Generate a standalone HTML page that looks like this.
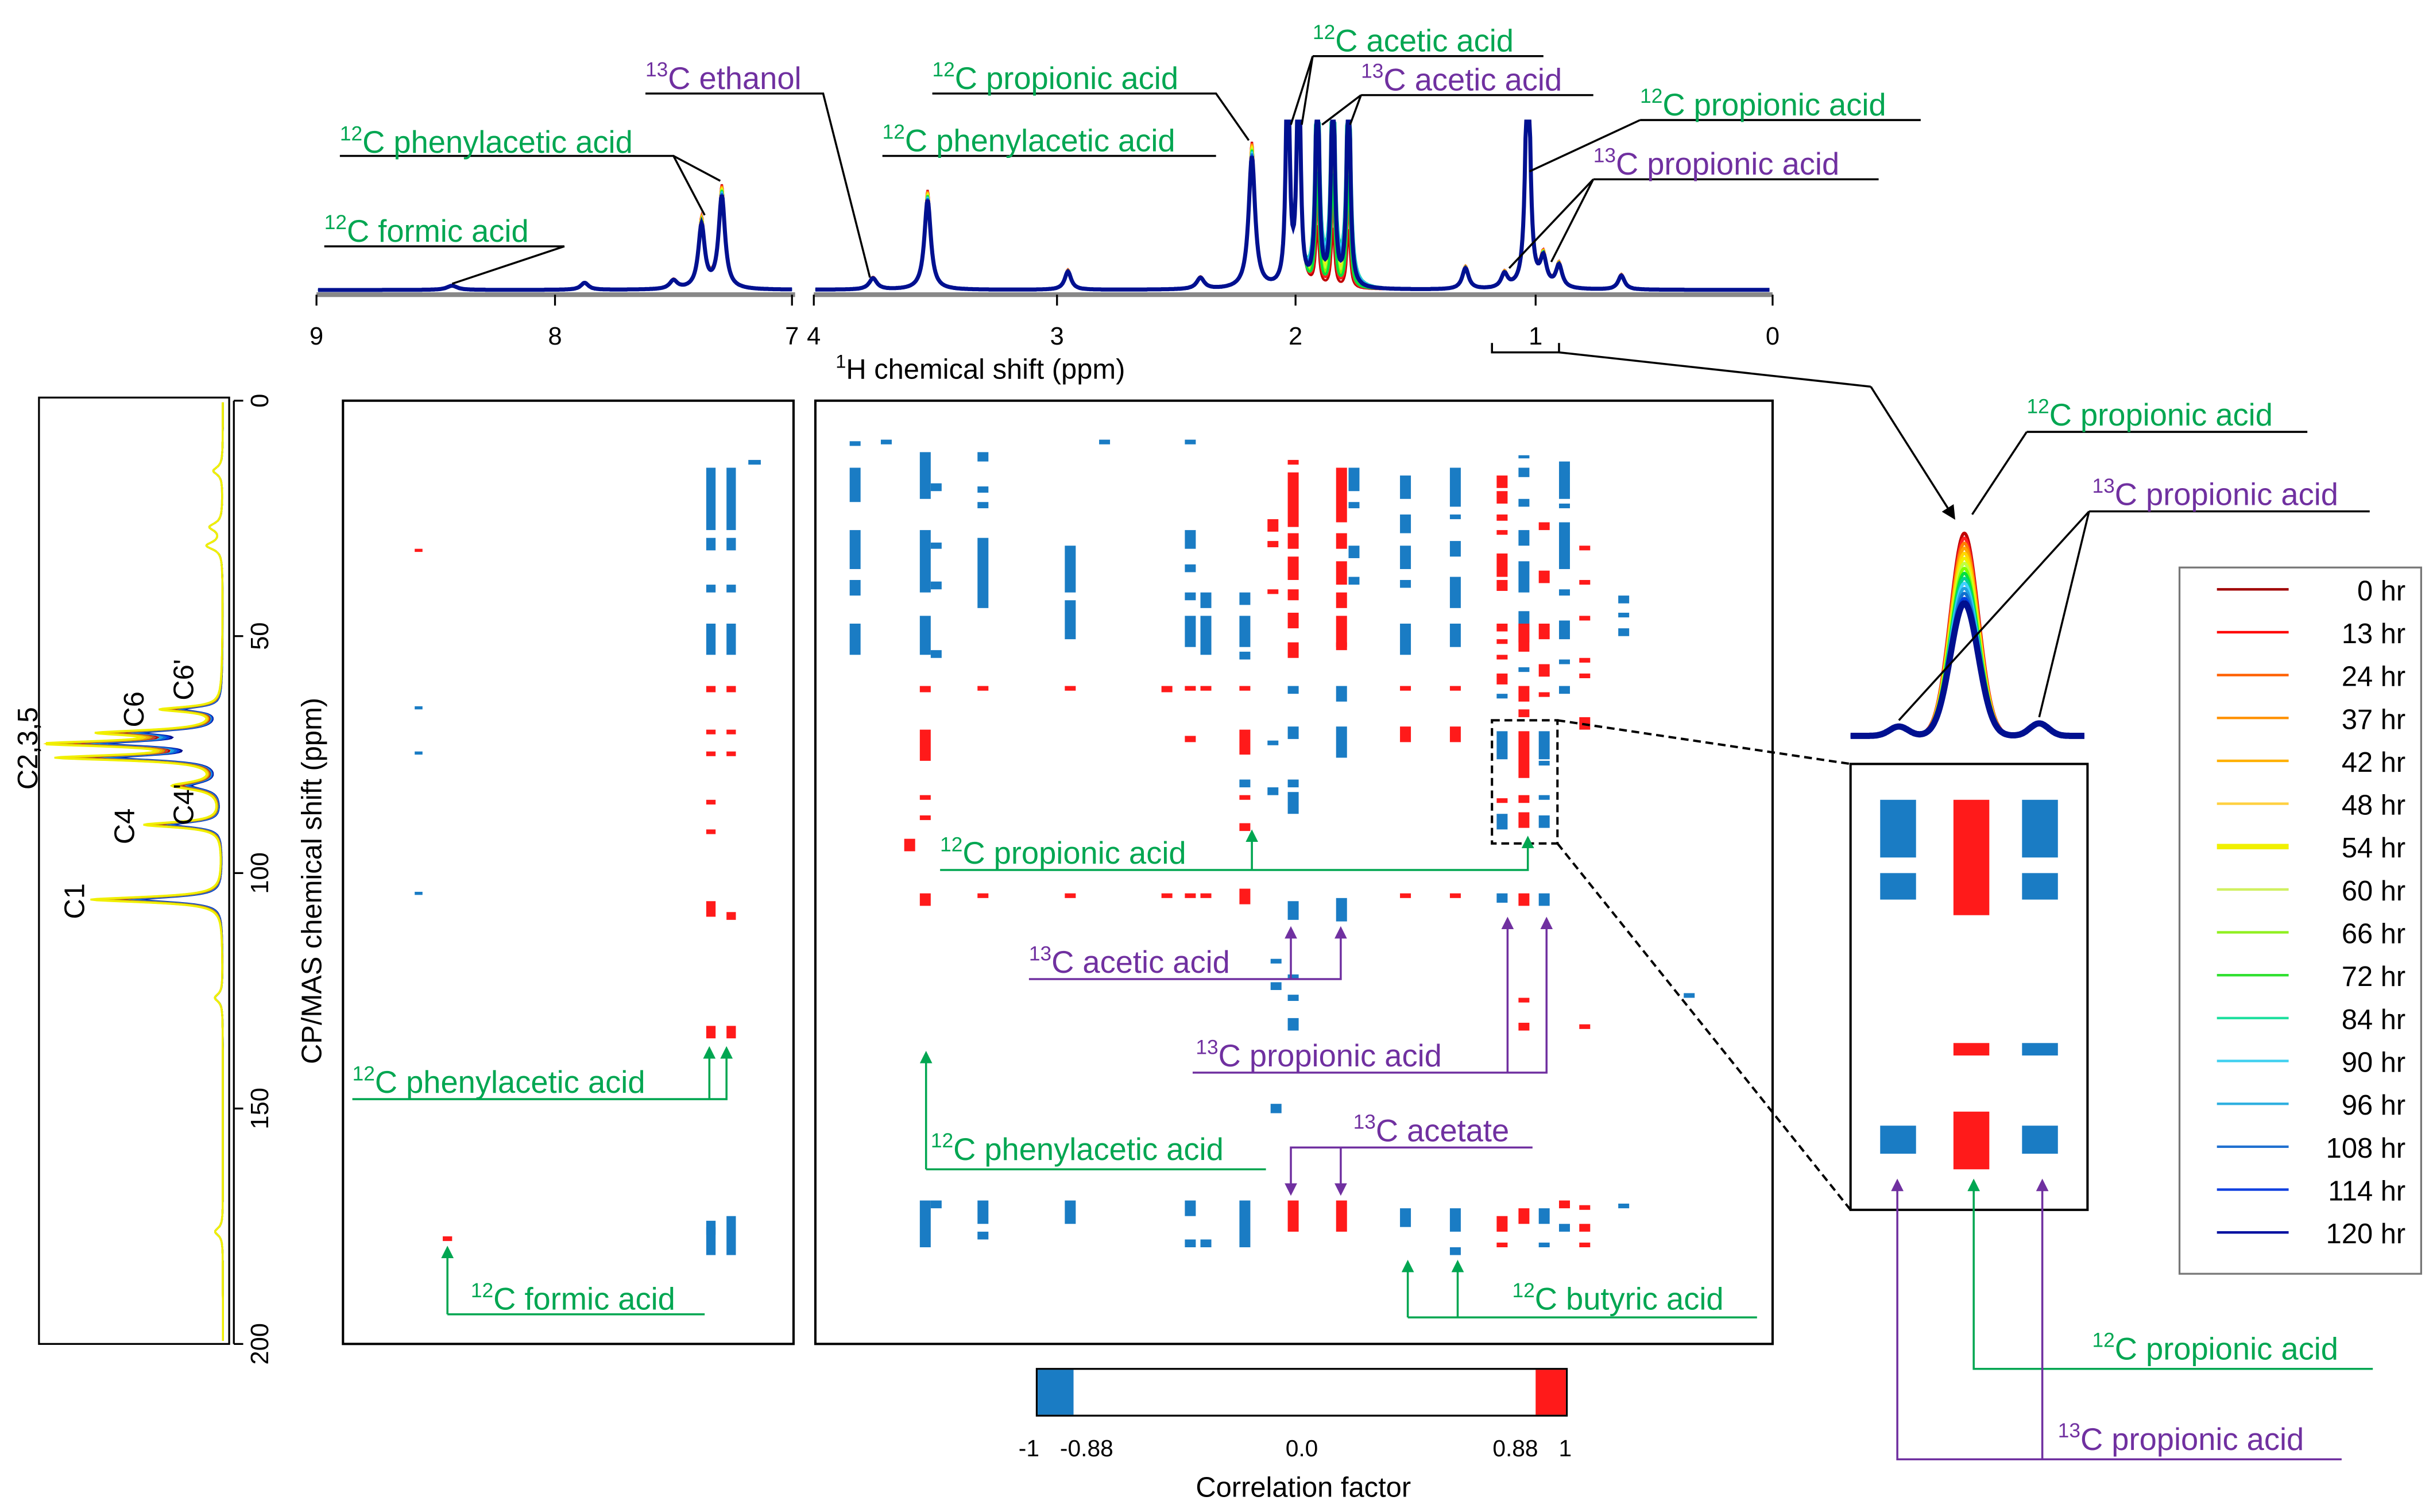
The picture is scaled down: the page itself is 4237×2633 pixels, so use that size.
<!DOCTYPE html>
<html><head><meta charset="utf-8"><style>
html,body{margin:0;padding:0;background:#fff}
svg{display:block}
text{font-family:"Liberation Sans",Arial,sans-serif}
.g{fill:#00a651}.p{fill:#7030a0}
</style></head><body>
<svg id="s" width="4237" height="2633" viewBox="0 0 1560.6 969.8" preserveAspectRatio="none" xmlns="http://www.w3.org/2000/svg">
<defs>
<marker id="ag" markerWidth="8" markerHeight="8" refX="4" refY="4" orient="auto" markerUnits="userSpaceOnUse"><path d="M0,0L8,4L0,8z" fill="#00a651"/></marker>
<marker id="ap" markerWidth="8" markerHeight="8" refX="4" refY="4" orient="auto" markerUnits="userSpaceOnUse"><path d="M0,0L8,4L0,8z" fill="#7030a0"/></marker>
<marker id="ak" markerWidth="9" markerHeight="9" refX="5" refY="4.5" orient="auto" markerUnits="userSpaceOnUse"><path d="M0,0L9,4.5L0,9z" fill="#000"/></marker>
</defs>
<g id="topg"></g>
<g stroke="#888" stroke-width="3"><line x1="203" y1="189" x2="510" y2="189"/><line x1="522" y1="189" x2="1137" y2="189"/></g>
<g stroke="#000" stroke-width="1.2">
<line x1="203" y1="189" x2="203" y2="196"/><line x1="356" y1="189" x2="356" y2="196"/><line x1="508" y1="189" x2="508" y2="196"/>
<line x1="522" y1="189" x2="522" y2="196"/><line x1="678" y1="189" x2="678" y2="196"/><line x1="831" y1="189" x2="831" y2="196"/><line x1="985" y1="189" x2="985" y2="196"/><line x1="1137" y1="189" x2="1137" y2="196"/>
</g>
<g font-size="16" text-anchor="middle">
<text x="203" y="221">9</text><text x="356" y="221">8</text><text x="508" y="221">7</text><text x="522" y="221">4</text><text x="678" y="221">3</text><text x="831" y="221">2</text><text x="985" y="221">1</text><text x="1137" y="221">0</text>
</g>
<text x="536" y="243" font-size="18"><tspan font-size="12" dy="-7">1</tspan><tspan dy="7">H chemical shift  (ppm)</tspan></text>

<rect x="25" y="255" width="122" height="607" fill="none" stroke="#000" stroke-width="1.2"/>
<g id="leftg"></g>
<line x1="150" y1="257" x2="150" y2="862" stroke="#000" stroke-width="1.2"/>
<g stroke="#000" stroke-width="1.2"><line x1="150" y1="257" x2="156" y2="257"/><line x1="150" y1="408" x2="156" y2="408"/><line x1="150" y1="560" x2="156" y2="560"/><line x1="150" y1="711" x2="156" y2="711"/><line x1="150" y1="862" x2="156" y2="862"/></g>
<g font-size="16" text-anchor="middle">
<text transform="translate(178,257) rotate(-90)" dy="-6">0</text>
<text transform="translate(178,408) rotate(-90)" dy="-6">50</text>
<text transform="translate(178,560) rotate(-90)" dy="-6">100</text>
<text transform="translate(178,711) rotate(-90)" dy="-6">150</text>
<text transform="translate(178,862) rotate(-90)" dy="-6">200</text>
<text transform="translate(206,565) rotate(-90)" font-size="18">CP/MAS chemical shift  (ppm)</text>
</g>
<g font-size="18" text-anchor="middle">
<text transform="translate(54,578) rotate(-90)">C1</text>
<text transform="translate(86,530) rotate(-90)">C4</text>
<text transform="translate(24,480) rotate(-90)">C2,3,5</text>
<text transform="translate(92,455) rotate(-90)">C6</text>
<text transform="translate(124,516) rotate(-90)">C4'</text>
<text transform="translate(124,436) rotate(-90)">C6'</text>
</g>

<rect x="220" y="257" width="289" height="605" fill="none" stroke="#000" stroke-width="1.5"/>
<rect x="523" y="257" width="614" height="605" fill="none" stroke="#000" stroke-width="1.5"/>
<g id="dash"></g>

<rect x="957" y="462" width="42" height="79" fill="none" stroke="#000" stroke-width="1.5" stroke-dasharray="5,3"/>
<line x1="999" y1="462" x2="1187" y2="490" stroke="#000" stroke-width="1.5" stroke-dasharray="5,3"/>
<line x1="999" y1="541" x2="1187" y2="776" stroke="#000" stroke-width="1.5" stroke-dasharray="5,3"/>

<rect x="665" y="878" width="340" height="30" fill="#fff" stroke="#000" stroke-width="1.2"/>
<rect x="665.6" y="878.6" width="23" height="28.8" fill="#1a7cc4"/>
<rect x="985" y="878.6" width="19.4" height="28.8" fill="#ff1a1a"/>
<g font-size="15" text-anchor="middle"><text x="660" y="934">-1</text><text x="697" y="934">-0.88</text><text x="835" y="934">0.0</text><text x="972" y="934">0.88</text><text x="1004" y="934">1</text></g>
<text x="836" y="960" font-size="18" text-anchor="middle">Correlation factor</text>

<g id="inset"></g>
<rect x="1187" y="490" width="152" height="286" fill="none" stroke="#000" stroke-width="1.5"/>
<g fill="#1a7cc4"><rect x="1206" y="513" width="23" height="37"/><rect x="1206" y="560" width="23" height="17"/><rect x="1297" y="513" width="23" height="37"/><rect x="1297" y="560" width="23" height="17"/><rect x="1297" y="669" width="23" height="8"/><rect x="1206" y="722" width="23" height="18"/><rect x="1297" y="722" width="23" height="18"/></g>
<g fill="#ff1a1a"><rect x="1253" y="513" width="23" height="74"/><rect x="1253" y="669" width="23" height="8"/><rect x="1253" y="713" width="23" height="37"/></g>

<rect x="1398" y="364" width="155" height="453" fill="#fff" stroke="#777" stroke-width="1.2"/>
<g id="leg" font-size="18" text-anchor="end"></g>

<g font-size="20" fill="none" stroke-width="1.3">
<g stroke="#000">
<polyline points="208,158 362,158 290,182"/>
<polyline points="218,100 432,100 452,138"/><line x1="432" y1="100" x2="462" y2="116"/>
<polyline points="414,60 528,60 558,178"/>
<polyline points="598,60 780,60 801,90"/>
<polyline points="566,100 780,100"/>
<polyline points="842,36 990,36"/><line x1="842" y1="36" x2="828" y2="80"/><line x1="842" y1="36" x2="835" y2="80"/>
<polyline points="873,61 1022,61"/><line x1="873" y1="61" x2="848" y2="80"/><line x1="873" y1="61" x2="866" y2="80"/>
<polyline points="1052,77 1232,77"/><line x1="1052" y1="77" x2="981" y2="110"/>
<polyline points="1022,115 1205,115"/><line x1="1022" y1="115" x2="968" y2="172"/><line x1="1022" y1="115" x2="995" y2="168"/>
<polyline points="957,220 957,226 1000,226 1000,220"/>
<line x1="1000" y1="226" x2="1200" y2="248"/><line x1="1200" y1="248" x2="1252" y2="330" marker-end="url(#ak)"/>
<polyline points="1300,277 1480,277"/><line x1="1300" y1="277" x2="1265" y2="330"/>
<polyline points="1340,328 1520,328"/><line x1="1340" y1="328" x2="1218" y2="462"/><line x1="1340" y1="328" x2="1308" y2="460"/>
</g>
<g stroke="#00a651">
<polyline points="603,558 980,558 980,540" marker-end="url(#ag)"/><line x1="803" y1="558" x2="803" y2="536" marker-end="url(#ag)"/>
<polyline points="226,705 466,705 466,675" marker-end="url(#ag)"/><line x1="455" y1="705" x2="455" y2="675" marker-end="url(#ag)"/>
<polyline points="594,750 812,750"/><line x1="594" y1="750" x2="594" y2="678" marker-end="url(#ag)"/>
<polyline points="287,843 452,843"/><line x1="287" y1="843" x2="287" y2="803" marker-end="url(#ag)"/>
<polyline points="903,845 1127,845"/><line x1="903" y1="845" x2="903" y2="812" marker-end="url(#ag)"/><line x1="935" y1="845" x2="935" y2="812" marker-end="url(#ag)"/>
<polyline points="1522,878 1266,878 1266,760" marker-end="url(#ag)"/>
</g>
<g stroke="#7030a0">
<polyline points="660,628 860,628 860,598" marker-end="url(#ap)"/><line x1="828" y1="628" x2="828" y2="598" marker-end="url(#ap)"/>
<polyline points="765,688 992,688 992,592" marker-end="url(#ap)"/><line x1="967" y1="688" x2="967" y2="592" marker-end="url(#ap)"/>
<polyline points="983,736 828,736 828,763" marker-end="url(#ap)"/><line x1="860" y1="736" x2="860" y2="763" marker-end="url(#ap)"/>
<polyline points="1502,936 1217,936 1217,760" marker-end="url(#ap)"/><line x1="1310" y1="936" x2="1310" y2="760" marker-end="url(#ap)"/>
</g>
</g>
<g font-size="20">
<text x="208" y="155" class="g"><tspan font-size="13" dy="-8">12</tspan><tspan dy="8">C formic acid</tspan></text>
<text x="218" y="98" class="g"><tspan font-size="13" dy="-8">12</tspan><tspan dy="8">C phenylacetic acid</tspan></text>
<text x="414" y="57" class="p"><tspan font-size="13" dy="-8">13</tspan><tspan dy="8">C ethanol</tspan></text>
<text x="598" y="57" class="g"><tspan font-size="13" dy="-8">12</tspan><tspan dy="8">C propionic acid</tspan></text>
<text x="566" y="97" class="g"><tspan font-size="13" dy="-8">12</tspan><tspan dy="8">C phenylacetic acid</tspan></text>
<text x="842" y="33" class="g"><tspan font-size="13" dy="-8">12</tspan><tspan dy="8">C acetic acid</tspan></text>
<text x="873" y="58" class="p"><tspan font-size="13" dy="-8">13</tspan><tspan dy="8">C acetic acid</tspan></text>
<text x="1052" y="74" class="g"><tspan font-size="13" dy="-8">12</tspan><tspan dy="8">C propionic acid</tspan></text>
<text x="1022" y="112" class="p"><tspan font-size="13" dy="-8">13</tspan><tspan dy="8">C propionic acid</tspan></text>
<text x="1300" y="273" class="g"><tspan font-size="13" dy="-8">12</tspan><tspan dy="8">C propionic acid</tspan></text>
<text x="1342" y="324" class="p"><tspan font-size="13" dy="-8">13</tspan><tspan dy="8">C propionic acid</tspan></text>
<text x="603" y="554" class="g"><tspan font-size="13" dy="-8">12</tspan><tspan dy="8">C propionic acid</tspan></text>
<text x="660" y="624" class="p"><tspan font-size="13" dy="-8">13</tspan><tspan dy="8">C acetic acid</tspan></text>
<text x="767" y="684" class="p"><tspan font-size="13" dy="-8">13</tspan><tspan dy="8">C propionic acid</tspan></text>
<text x="226" y="701" class="g"><tspan font-size="13" dy="-8">12</tspan><tspan dy="8">C phenylacetic acid</tspan></text>
<text x="868" y="732" class="p"><tspan font-size="13" dy="-8">13</tspan><tspan dy="8">C acetate</tspan></text>
<text x="597" y="744" class="g"><tspan font-size="13" dy="-8">12</tspan><tspan dy="8">C phenylacetic acid</tspan></text>
<text x="302" y="840" class="g"><tspan font-size="13" dy="-8">12</tspan><tspan dy="8">C formic acid</tspan></text>
<text x="970" y="840" class="g"><tspan font-size="13" dy="-8">12</tspan><tspan dy="8">C butyric acid</tspan></text>
<text x="1342" y="872" class="g"><tspan font-size="13" dy="-8">12</tspan><tspan dy="8">C propionic acid</tspan></text>
<text x="1320" y="930" class="p"><tspan font-size="13" dy="-8">13</tspan><tspan dy="8">C propionic acid</tspan></text>
</g>
</svg>
<script>
(function(){
var NS="http://www.w3.org/2000/svg";
function el(p,t,a){var e=document.createElementNS(NS,t);for(var k in a)e.setAttribute(k,a[k]);p.appendChild(e);return e;}
var cols=["#c00000","#ff2020","#ff7f00","#ffa500","#ffd700","#f0f000","#c0ff40","#80ff00","#00e040","#00d090","#40d0ff","#20a0e0","#1070d0","#0040e0","#001090"];
var tg=document.getElementById("topg");
var peaks=[[450,45,2.5],[463,66,2.5],[595,64,2.5],[803,94,2.5],[826,200,1.2],[833,200,1.2],[845,200,1.2],[855,200,1.2],[865,200,1.2],[980,200,1.6],[990,20,2.5],[1000,16,2.5],[1040,10,2.5],[685,13,2.5],[940,15,2.5],[965,10,2.5],[375,5,3],[432,6,3],[560,8,3],[770,8,3],[290,3,4]];
function topPath(x0,x1,f){var d="";for(var x=x0;x<=x1;x+=0.5){var y=186;for(var i=0;i<peaks.length;i++){var p=peaks[i];var h=p[1]*f(p[0],i);var dx=(x-p[0])/p[2];y-=h/(1+dx*dx);}if(y<78)y=78;d+=(d?"L":"M")+x+","+y.toFixed(1);}return d;}
cols.forEach(function(c,k){var t=k/(cols.length-1);
 var f=function(px,i){if(i>=6&&i<=8){return Math.max(0.05,0.05+(1-Math.abs(t-0.35)*2.2)*0.6+(t>0.6?1:0));} return 0.9+0.1*(1-t);};
 [[204,508],[523,1135]].forEach(function(r){el(tg,"path",{d:topPath(r[0],r[1],f),fill:"none",stroke:c,"stroke-width":k==cols.length-1?2.6:1.5});});
});
var lg=document.getElementById("leftg");
var lp=[[577,85,2.2],[529,50,2.2],[477,108,2.2],[486,100,2.2],[470,70,2.2],[455,38,2],[504,30,3],[350,10,3],[338,8,3],[302,6,3],[640,5,3],[790,5,3]];
var items=cols.map(function(c,k){var t=k/(cols.length-1);return {c:c,fac:1-Math.abs(t-0.35)*0.6};});
items.sort(function(a,b){return a.fac-b.fac;});
items.forEach(function(it){var d="";
 for(var y=258;y<=860;y+=0.5){var x=143;lp.forEach(function(p,i){var h=p[1]*(i<7?it.fac:1);var dy=(y-p[0])/p[2];x-=h/(1+dy*dy);});if(x<30)x=30;d+=(d?"L":"M")+x.toFixed(1)+","+y;}
 el(lg,"path",{d:d,fill:"none",stroke:it.c,"stroke-width":1.2});});
var ins=document.getElementById("inset");
cols.forEach(function(c,k){var t=k/(cols.length-1);var d="";var h=130-45*t;
 for(var x=1187;x<=1337;x+=0.5){var y=472;var dx=(x-1260)/9;y-=h*Math.exp(-dx*dx/2);var d2=(x-1218)/6;y-=6*Math.exp(-d2*d2/2);var d3=(x-1308)/6;y-=8*Math.exp(-d3*d3/2);d+=(d?"L":"M")+x+","+y.toFixed(1);}
 el(ins,"path",{d:d,fill:"none",stroke:c,"stroke-width":k==cols.length-1?4:2});});
var leg=document.getElementById("leg");
var lc=["#a00000","#ff0000","#ff6000","#ff9000","#ffb000","#ffd040","#f0f000","#d0f060","#90f020","#30e030","#20e0a0","#40d0f0","#30b0e0","#2070d0","#1040e0","#0010a0"];
var lt=["0 hr","13 hr","24 hr","37 hr","42 hr","48 hr","54 hr","60 hr","66 hr","72 hr","84 hr","90 hr","96 hr","108 hr","114 hr","120 hr"];
lt.forEach(function(s,i){var y=383+i*27.5;el(leg,"line",{x1:1422,y1:y-5,x2:1468,y2:y-5,stroke:lc[i],"stroke-width":i==6?3.5:1.6});var tx=el(leg,"text",{x:1543,y:y+2});tx.textContent=s;});
var g=document.getElementById("dash");
var B="#1a7cc4",R="#ff1a1a";
function r(x,y,w,h,c){el(g,"rect",{x:x,y:y,width:w,height:h,fill:c});}
[[453,300,6,40,B],[466,300,6,40,B],[453,345,6,8,B],[466,345,6,8,B],[453,375,6,5,B],[466,375,6,5,B],[453,400,6,20,B],[466,400,6,20,B],[480,295,8,3,B],
 [453,440,6,4,R],[466,440,6,4,R],[453,468,6,3,R],[466,468,6,3,R],[453,482,6,3,R],[466,482,6,3,R],[453,513,6,3,R],[453,532,6,3,R],[453,578,6,10,R],[466,585,6,5,R],[453,658,6,8,R],[466,658,6,8,R],
 [453,783,6,22,B],[466,780,6,25,B],[453,787,6,5,B],
 [266,352,5,2,R],[266,453,5,2,B],[266,482,5,2,B],[266,572,5,2,B],[284,793,6,3,R]
].forEach(function(a){r.apply(null,a);});
var P=[
[545,[[300,22,B],[340,25,B],[372,10,B],[400,20,B],[283,3,B]]],
[590,[[290,30,B],[340,40,B],[395,25,B],[440,4,R],[468,20,R],[510,3,R],[523,3,R],[573,8,R],[770,30,B]]],
[597,[[310,5,B],[348,4,B],[373,5,B],[417,5,B],[770,5,B]]],
[627,[[290,6,B],[312,4,B],[322,4,B],[345,45,B],[440,3,R],[573,3,R],[770,15,B],[790,5,B]]],
[683,[[350,30,B],[385,25,B],[440,3,R],[573,3,R],[770,15,B]]],
[705,[[282,3,B]]],
[760,[[282,3,B],[340,12,B],[362,5,B],[380,5,B],[395,20,B],[440,3,R],[472,4,R],[573,3,R],[770,10,B],[795,5,B]]],
[770,[[380,10,B],[395,25,B],[440,3,R],[573,3,R],[795,5,B]]],
[795,[[380,8,B],[395,20,B],[418,5,B],[440,3,R],[468,16,R],[500,5,B],[510,3,R],[528,5,R],[570,10,R],[770,30,B]]],
[813,[[333,8,R],[347,4,R],[378,3,R],[475,3,B],[505,5,B]]],
[826,[[295,3,R],[303,35,R],[342,10,R],[357,15,R],[378,7,R],[393,10,R],[412,10,R],[440,5,B],[466,8,B],[500,5,B],[508,14,B],[578,12,B],[625,3,B],[638,4,B],[653,8,B],[770,20,R]]],
[857,[[300,35,R],[342,10,R],[360,15,R],[380,10,R],[395,20,R],[412,5,R],[440,10,B],[466,20,B],[576,15,B],[770,20,R]]],
[865,[[300,15,B],[322,4,B],[350,8,B],[370,5,B]]],
[898,[[305,15,B],[330,12,B],[350,15,B],[372,5,B],[400,20,B],[440,3,R],[466,10,R],[573,3,R],[775,12,B]]],
[930,[[300,25,B],[330,3,B],[347,10,B],[370,20,B],[400,15,B],[440,3,R],[466,10,R],[573,3,R],[775,15,B],[800,5,B]]],
[960,[[305,8,R],[315,8,R],[330,4,R],[340,3,R],[355,15,R],[372,7,R],[400,5,R],[410,3,R],[420,3,R],[432,7,R],[445,3,B],[469,18,B],[512,3,R],[522,10,B],[573,6,B],[780,10,R],[797,3,R]]],
[974,[[292,2,B],[300,6,B],[320,5,B],[340,10,B],[360,20,B],[392,20,B],[400,18,R],[428,3,B],[440,10,R],[455,5,R],[469,30,R],[510,5,R],[521,10,R],[573,8,R],[640,3,R],[656,5,R],[775,10,R]]],
[987,[[335,5,R],[366,8,R],[400,10,R],[426,8,R],[444,3,R],[469,18,B],[488,3,B],[510,3,B],[523,8,B],[573,8,B],[775,10,B],[797,3,B]]],
[1000,[[296,8,B],[303,17,B],[323,3,B],[335,30,B],[378,4,B],[398,12,B],[423,3,B],[440,5,B],[770,5,R],[785,5,B]]],
[1013,[[350,3,R],[372,3,R],[395,3,R],[422,3,R],[432,3,R],[460,8,R],[657,3,R],[773,3,R],[785,5,R],[797,3,R]]],
[1038,[[382,5,B],[393,3,B],[403,5,B],[772,3,B]]],
[1080,[[637,3,B]]],
[565,[[282,3,B]]],[745,[[440,4,R],[573,3,R]]],[580,[[538,8,R]]],[815,[[615,3,B],[630,5,B],[708,6,B]]]
];
P.forEach(function(c){c[1].forEach(function(d){r(c[0],d[0],7,d[1],d[2]);});});
})();
</script>
</body></html>
